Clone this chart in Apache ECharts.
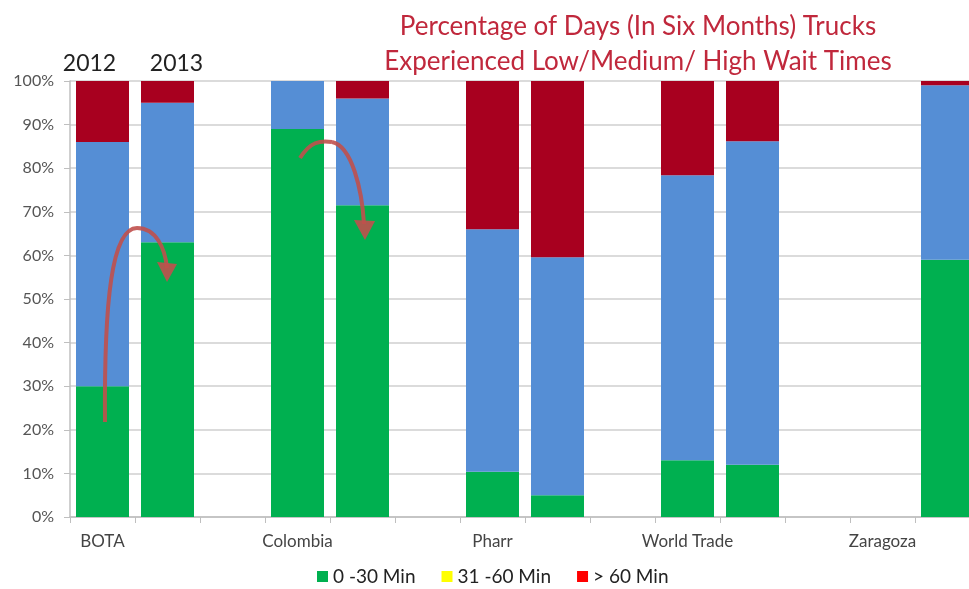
<!DOCTYPE html>
<html>
<head>
<meta charset="utf-8">
<title>Truck wait times</title>
<script src="https://cdn.jsdelivr.net/npm/echarts@6/dist/echarts.min.js"></script>
<style>
  html, body { margin: 0; padding: 0; background: #fff; overflow: hidden; }
  /* 原图右侧被裁掉一截，画布比窗口略宽 */
  #chart { width: 980px; height: 589px; }
</style>
</head>
<body>
<div id="chart"></div>
<script>
// 口岸（每组两根柱：2012、2013），空字符串是组间空位
var categories = ['BOTA', '', '', 'Colombia', '', '', 'Pharr', '', '', 'World Trade', '', '', 'Zaragoza', ''];
var years = ['2012', '2013'];

// 各等待时段天数占比 (%)
var low = [30, 63, null, 89, 71.5, null, 10.4, 5, null, 13, 12, null, null, 59];
var mid = [56, 32, null, 11, 24.5, null, 55.6, 54.6, null, 65.4, 74.2, null, null, 40];
var high = [14, 5, null, 0, 4, null, 34, 40.4, null, 21.6, 13.8, null, null, 1];

var seriesNames = ['0 -30 Min', '31 -60 Min', '> 60 Min'];
var barColors = ['#00b050', '#558ed5', '#a8001f'];
var legendColors = ['#00b050', '#ffff00', '#ff0000'];

var font = 'Lato, "Open Sans", sans-serif';
var arrowColor = 'rgba(192,80,77,0.9)';

var oChart = echarts.init(document.getElementById('chart'));

// 顶部年份标签（只放在 BOTA 两根柱子上）
var highData = high.map(function (v, i) {
    if (i < 2) {
        return {
            value: v,
            label: {
                show: true,
                position: 'top',
                distance: 6,
                offset: [i === 0 ? -13 : 9, 0],
                formatter: years[i],
                color: '#222',
                fontSize: 23,
                fontFamily: font
            }
        };
    }
    return v;
});

var chartopt = {
    animation: false,
    backgroundColor: '#fff',
    title: {
        text: 'Percentage of Days (In Six Months) Trucks\nExperienced Low/Medium/ High Wait Times',
        left: 633,
        top: 4,
        textAlign: 'center',
        textStyle: {
            color: '#c0283c',
            fontSize: 26,
            fontWeight: 'normal',
            fontFamily: font,
            lineHeight: 35
        }
    },
    legend: {
        bottom: -2,
        left: 312,
        icon: 'rect',
        itemWidth: 11,
        itemHeight: 11,
        itemGap: 26,
        textStyle: { fontSize: 19, color: '#222', fontFamily: font },
        data: seriesNames.map(function (n, i) {
            return { name: n, itemStyle: { color: legendColors[i] } };
        })
    },
    grid: {
        left: 70,
        right: 0,
        top: 81,
        bottom: 72
    },
    xAxis: {
        type: 'category',
        data: categories,
        axisLine: { lineStyle: { color: '#bfbfbf', width: 1.5 } },
        axisTick: { show: true, interval: 0, length: 6, lineStyle: { color: '#bfbfbf' } },
        axisLabel: { interval: 0, margin: 16, color: '#444', fontSize: 17, fontFamily: font }
    },
    yAxis: {
        type: 'value',
        min: 0,
        max: 100,
        interval: 10,
        axisLine: { show: true, lineStyle: { color: '#bfbfbf', width: 1.5 } },
        axisTick: { show: true, length: 6, lineStyle: { color: '#bfbfbf' } },
        axisLabel: { formatter: '{value}%', margin: 16, color: '#555', fontSize: 16, fontFamily: font },
        splitLine: { lineStyle: { color: '#cfcfcf', width: 1.5 } }
    },
    series: [{
        name: seriesNames[0],
        type: 'bar',
        stack: 'days',
        barWidth: 53,
        itemStyle: { color: barColors[0] },
        data: low
    }, {
        name: seriesNames[1],
        type: 'bar',
        stack: 'days',
        barWidth: 53,
        itemStyle: { color: barColors[1] },
        data: mid
    }, {
        name: seriesNames[2],
        type: 'bar',
        stack: 'days',
        barWidth: 53,
        itemStyle: { color: barColors[2] },
        data: highData
    }],
    // 弯箭头注释
    graphic: [{
        type: 'group',
        silent: true,
        z: 100,
        children: [
            { type: 'bezierCurve', z: 100, shape: { x1: 105, y1: 422, cpx1: 104, cpy1: 300, cpx2: 112, cpy2: 228, x2: 137, y2: 228 }, style: { stroke: arrowColor, lineWidth: 4, fill: null } },
            { type: 'bezierCurve', z: 100, shape: { x1: 137, y1: 228, cpx1: 156, cpy1: 228, cpx2: 165, cpy2: 248, x2: 167, y2: 268 }, style: { stroke: arrowColor, lineWidth: 4, fill: null } },
            { type: 'polygon', z: 100, shape: { points: [[167, 282], [157, 262], [177, 264]] }, style: { fill: arrowColor } },
            { type: 'bezierCurve', z: 100, shape: { x1: 300, y1: 158, cpx1: 310, cpy1: 142, cpx2: 320, cpy2: 140, x2: 332, y2: 142 }, style: { stroke: arrowColor, lineWidth: 4, fill: null } },
            { type: 'bezierCurve', z: 100, shape: { x1: 332, y1: 142, cpx1: 352, cpy1: 146, cpx2: 362, cpy2: 190, x2: 364, y2: 224 }, style: { stroke: arrowColor, lineWidth: 4, fill: null } },
            { type: 'polygon', z: 100, shape: { points: [[365, 240], [354, 220], [375, 221]] }, style: { fill: arrowColor } }
        ]
    }]
};

oChart.setOption(chartopt);
</script>
</body>
</html>
